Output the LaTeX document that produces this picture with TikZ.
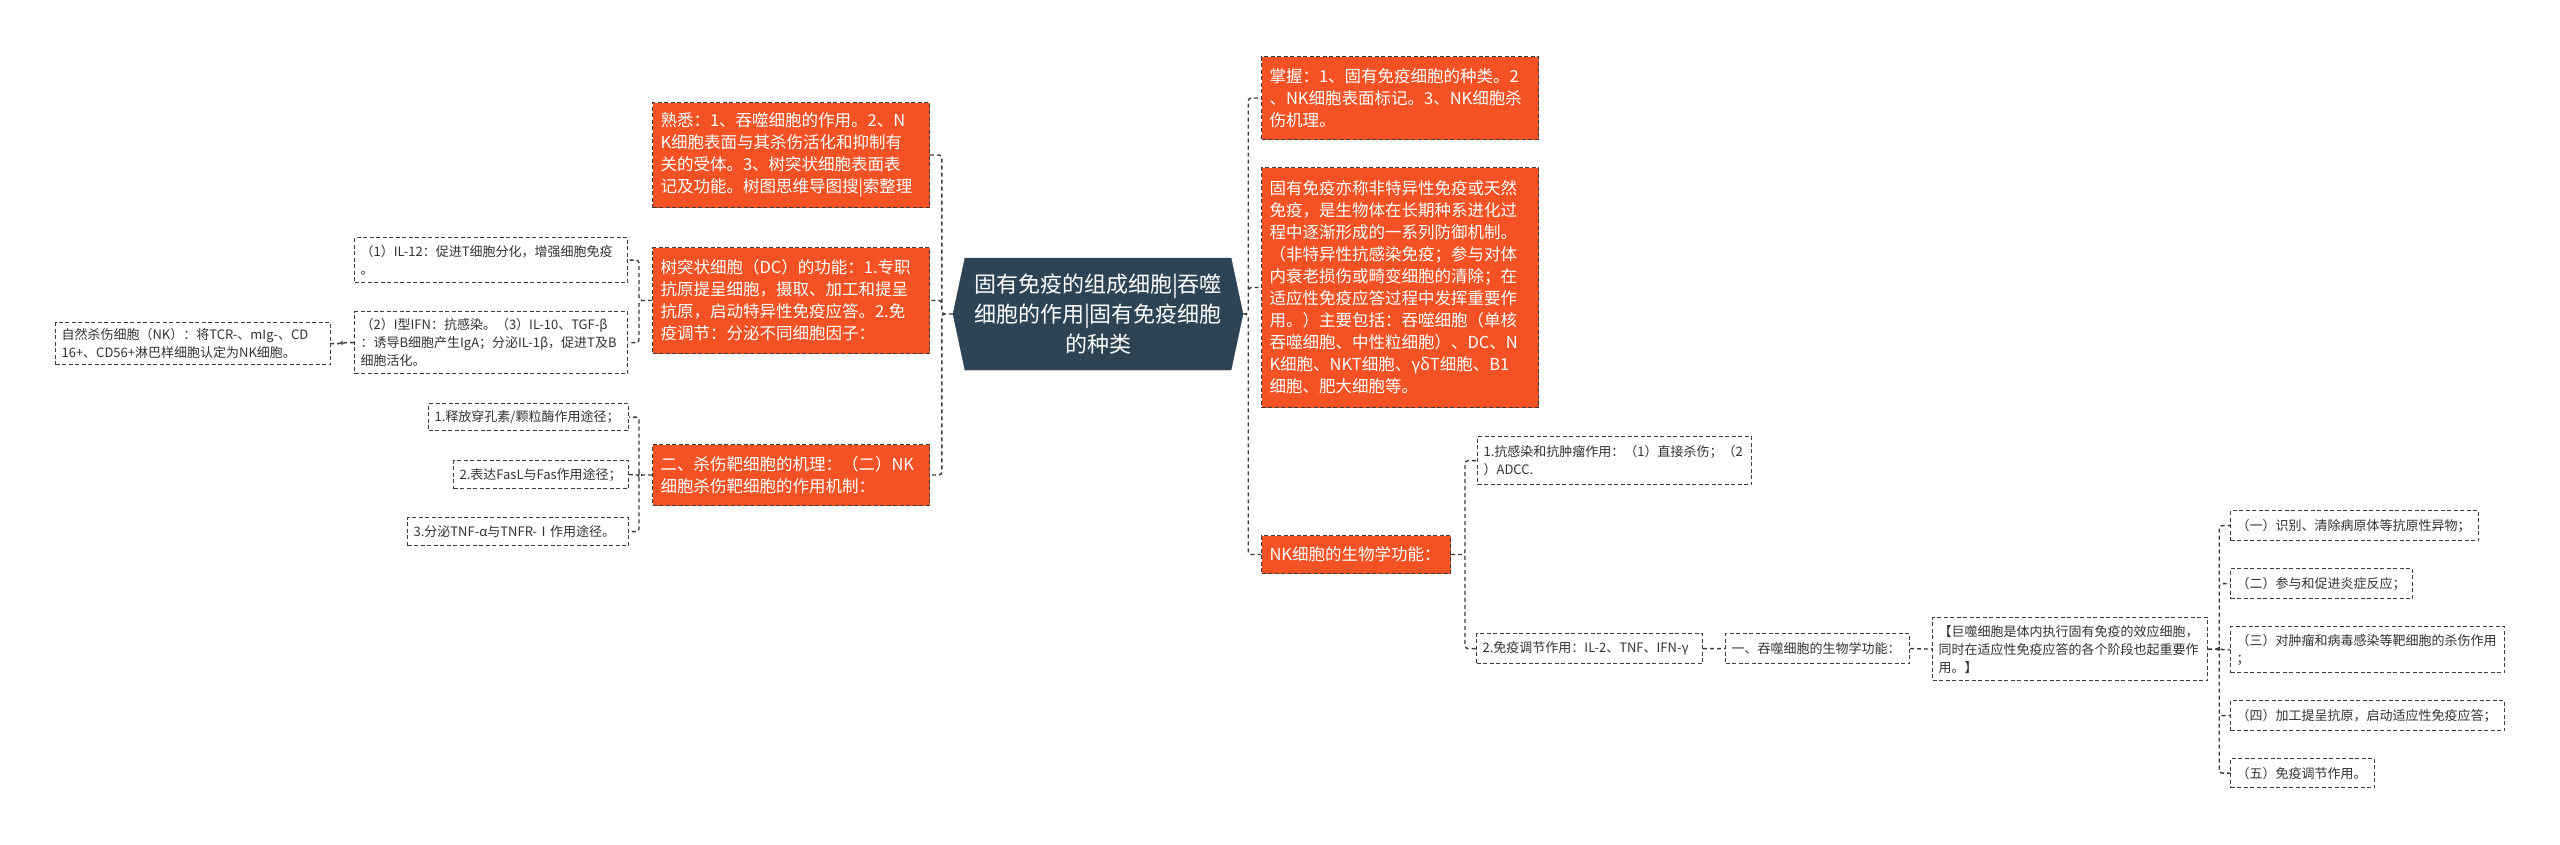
\documentclass[tikz,border=0pt]{standalone}
\usepackage{fontspec}
\setmainfont{Noto Sans CJK SC}
\usetikzlibrary{shapes.symbols}

\definecolor{hubfill}{RGB}{46,68,84}
\definecolor{keyfill}{RGB}{244,82,36}
\definecolor{linkgray}{RGB}{60,60,60}

\begin{document}
\begin{tikzpicture}[
  x=1pt, y=-1pt,
  hub/.style={shape=signal, signal to=west and east, signal pointer angle=156, fill=hubfill, draw=hubfill, text=white, align=center, font=\fontsize{22}{30}\selectfont, minimum width=290pt, minimum height=112pt, inner sep=2pt},
  key/.style={draw=linkgray, dash pattern=on 4pt off 2.5pt, line width=1pt, fill=keyfill, text=white, align=left, anchor=north west, inner xsep=8pt, font=\fontsize{16.5}{22}\selectfont},
  leaf/.style={draw=linkgray, dash pattern=on 4pt off 2.5pt, line width=1.2pt, fill=white, text=black!80, align=left, anchor=north west, inner xsep=6pt, font=\fontsize{13}{18}\selectfont},
  link/.style={draw=linkgray, dash pattern=on 4pt off 3pt, line width=1.4pt, rounded corners=3pt}
]
\path[use as bounding box, fill=white] (0,0) rectangle (2560,844);

\node[hub] (root) at (1098,314) {固有免疫的组成细胞|吞噬\\细胞的作用|固有免疫细胞\\的种类};

\node[key, text width=261pt, minimum height=105pt] (l1) at (652,102) {熟悉：1、吞噬细胞的作用。2、N\\K细胞表面与其杀伤活化和抑制有\\关的受体。3、树突状细胞表面表\\记及功能。树图思维导图搜|索整理};
\node[key, text width=261pt, minimum height=106pt] (l2) at (652,247) {树突状细胞（DC）的功能：1.专职\\抗原提呈细胞，摄取、加工和提呈\\抗原，启动特异性免疫应答。2.免\\疫调节：分泌不同细胞因子：};
\node[key, text width=261pt, minimum height=61pt] (l3) at (652,444) {二、杀伤靶细胞的机理：（二）NK\\细胞杀伤靶细胞的作用机制：};

\node[key, text width=261pt, minimum height=83pt] (r1) at (1261,56) {掌握：1、固有免疫细胞的种类。2\\、NK细胞表面标记。3、NK细胞杀\\伤机理。};
\node[key, text width=261pt, minimum height=240pt] (r2) at (1261,167) {固有免疫亦称非特异性免疫或天然\\免疫，是生物体在长期种系进化过\\程中逐渐形成的一系列防御机制。\\（非特异性抗感染免疫；参与对体\\内衰老损伤或畸变细胞的清除；在\\适应性免疫应答过程中发挥重要作\\用。）主要包括：吞噬细胞（单核\\吞噬细胞、中性粒细胞）、DC、N\\K细胞、NKT细胞、γδT细胞、B1\\细胞、肥大细胞等。};
\node[key, text width=173pt, minimum height=38pt] (r3) at (1261,535) {NK细胞的生物学功能：};

\node[leaf, text width=261pt, minimum height=45pt] (a1) at (354,237) {（1）IL-12：促进T细胞分化，增强细胞免疫\\。};
\node[leaf, text width=261pt, minimum height=62pt] (a2) at (354,311) {（2）I型IFN：抗感染。（3）IL-10、TGF-β\\：诱导B细胞产生IgA；分泌IL-1β，促进T及B\\细胞活化。};
\node[leaf, text width=263pt, minimum height=42pt] (a3) at (55,322) {自然杀伤细胞（NK）：将TCR-、mIg-、CD\\16+、CD56+淋巴样细胞认定为NK细胞。};

\node[leaf, text width=188pt, minimum height=27pt] (b1) at (428,403) {1.释放穿孔素/颗粒酶作用途径；};
\node[leaf, text width=163pt, minimum height=28pt] (b2) at (453,460) {2.表达FasL与Fas作用途径；};
\node[leaf, text width=209pt, minimum height=28pt] (b3) at (407,517) {3.分泌TNF-α与TNFR-Ⅰ作用途径。};

\node[leaf, text width=262pt, minimum height=48pt] (c1) at (1477,436) {1.抗感染和抗肿瘤作用：（1）直接杀伤；（2\\）ADCC.};
\node[leaf, text width=214pt, minimum height=30pt] (c2) at (1476,633) {2.免疫调节作用：IL-2、TNF、IFN-γ};
\node[leaf, text width=172pt, minimum height=30pt] (d1) at (1725,633) {一、吞噬细胞的生物学功能：};
\node[leaf, text width=263pt, minimum height=63pt] (d2) at (1932,617) {【巨噬细胞是体内执行固有免疫的效应细胞，\\同时在适应性免疫应答的各个阶段也起重要作\\用。】};

\node[leaf, text width=236pt, minimum height=30pt] (e1) at (2230,510) {（一）识别、清除病原体等抗原性异物；};
\node[leaf, text width=170pt, minimum height=30pt] (e2) at (2230,568) {（二）参与和促进炎症反应；};
\node[leaf, text width=262pt, minimum height=46pt] (e3) at (2230,626) {（三）对肿瘤和病毒感染等靶细胞的杀伤作用\\；};
\node[leaf, text width=262pt, minimum height=30pt] (e4) at (2230,700) {（四）加工提呈抗原，启动适应性免疫应答；};
\node[leaf, text width=132pt, minimum height=29pt] (e5) at (2230,758) {（五）免疫调节作用。};

\draw[link]
% left side
(root.west) -- ++(-11,0) |- (l1.east)
(root.west) -- ++(-11,0) |- (l2.east)
(root.west) -- ++(-11,0) |- (l3.east)
(l2.west) -- ++(-13,0) |- (a1.east)
(l2.west) -- ++(-13,0) |- (a2.east)
(a2.west) -- ++(-12,0) |- (a3.east)
(l3.west) -- ++(-13,0) |- (b1.east)
(l3.west) -- ++(-13,0) |- (b2.east)
(l3.west) -- ++(-13,0) |- (b3.east)

% right side
(root.east) -- ++(5,0) |- (r1.west)
(root.east) -- ++(5,0) |- (r2.west)
(root.east) -- ++(5,0) |- (r3.west)
(r3.east) -- ++(14,0) |- (c1.west)
(r3.east) -- ++(14,0) |- (c2.west)
(c2.east) -- (d1.west)
(d1.east) -- (d2.west)
(d2.east) -- ++(11,0) |- (e1.west)
(d2.east) -- ++(11,0) |- (e2.west)
(d2.east) -- ++(11,0) |- (e3.west)
(d2.east) -- ++(11,0) |- (e4.west)
(d2.east) -- ++(11,0) |- (e5.west)
;

\end{tikzpicture}
\end{document}
